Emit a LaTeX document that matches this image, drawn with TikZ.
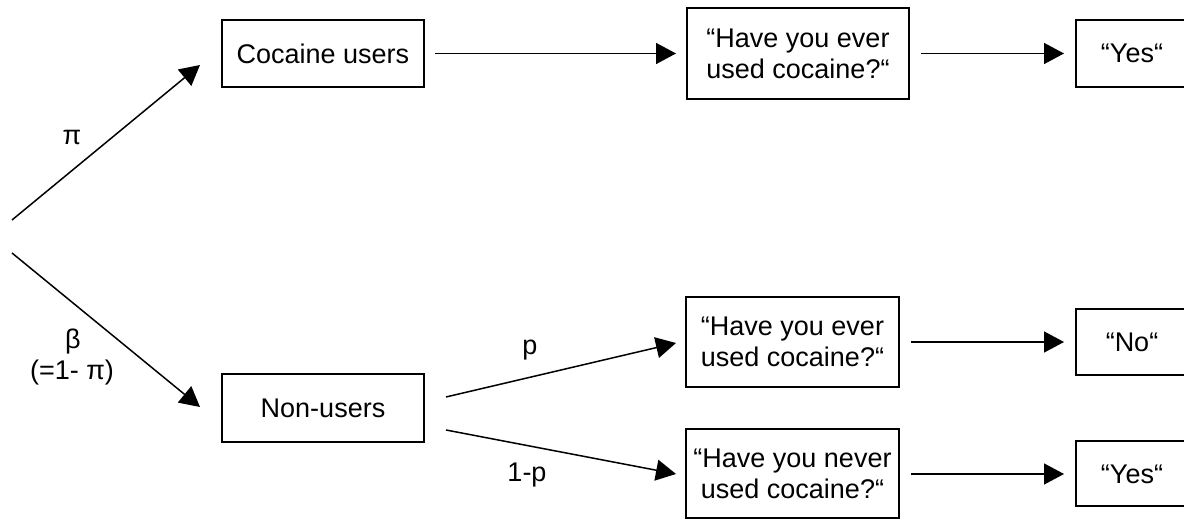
\documentclass[tikz,border=0pt]{standalone}
\usepackage{fontspec}
\setmainfont{Liberation Sans}
\usetikzlibrary{arrows.meta}
\begin{document}
\begin{tikzpicture}[x=1pt,y=1pt,
  box/.style={draw, line width=2pt, inner sep=0pt, align=center,
    font=\fontsize{27}{31}\selectfont},
  lbl/.style={inner sep=0pt, align=center, font=\fontsize{27}{31}\selectfont},
  arr/.style={line width=1.5pt, -{Triangle[length=20pt,width=21pt]}}]
\clip (0,0) rectangle (1184,519);
\fill[white] (0,0) rectangle (1184,519);

% population split
\node[box, minimum width=202, minimum height=67] (cu) at (323,465.5) {Cocaine users};
\node[box, minimum width=202, minimum height=68] (nu) at (323,111) {Non-users};

% questions
\node[box, minimum width=222, minimum height=91] (q1) at (798,465.5) {“Have you ever\\used cocaine?“};
\node[box, minimum width=213, minimum height=90] (q2) at (792.5,177) {“Have you ever\\used cocaine?“};
\node[box, minimum width=213, minimum height=89] (q3) at (792.5,45) {“Have you never\\used cocaine?“};

% answers
\node[box, minimum width=112, minimum height=67] (y1) at (1132,465.5) {“Yes“};
\node[box, minimum width=112, minimum height=66] (no) at (1132,177) {“No“};
\node[box, minimum width=112, minimum height=65] (y2) at (1132,45) {“Yes“};

% root of the tree
\coordinate (r1) at (12,299);
\coordinate (r2) at (12,266);

\draw[arr] (r1) -- ([shift={(-21,-11.5)}]cu.west);
\draw[arr] (r2) -- ([shift={(-21,1)}]nu.west);
\draw[arr, shorten <=10pt, shorten >=10pt] (cu.east) -- (q1.west);
\draw[arr, shorten <=11pt, shorten >=11pt] (q1.east) -- (y1.west);
\draw[arr] ([shift={(21,11)}]nu.east) -- ([shift={(-9,-1)}]q2.west);
\draw[arr] ([shift={(21,-22)}]nu.east) -- ([shift={(-9,0)}]q3.west);
\draw[arr, shorten <=11pt, shorten >=11pt] (q2.east) -- (no.west);
\draw[arr, shorten <=11pt, shorten >=11pt] (q3.east) -- (y2.west);

% branch probabilities
\node[lbl] (lpi) at (72,381) {π};
\node[lbl] (lbeta) at (73,177) {β};
\node[lbl] (lbeta2) at (72,146) {(=1- π)};
\node[lbl] (lp) at (530,169) {p};
\node[lbl] (l1p) at (527,44) {1-p};
\end{tikzpicture}
\end{document}
